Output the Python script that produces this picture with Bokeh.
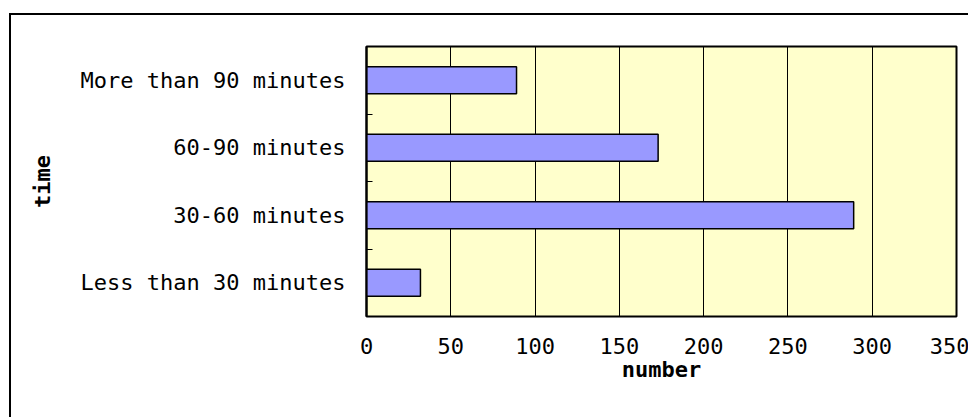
from bokeh.plotting import figure
from bokeh.models import FixedTicker, Range1d, ColumnDataSource
from bokeh.embed import file_html
from bokeh.resources import INLINE

# Data (bottom to top)
categories = ["Less than 30 minutes", "30-60 minutes", "60-90 minutes", "More than 90 minutes"]
values = [32, 289, 173, 89]
x_ticks = [0, 50, 100, 150, 200, 250, 300, 350]

ypos = [i + 0.5 for i in range(len(categories))]
bounds = [i for i in range(1, len(categories))]

src = ColumnDataSource(dict(y=ypos, v=values, cat=categories))

FONT = "DejaVu Sans Mono"

p = figure(frame_width=590, frame_height=270, min_border_left=355, min_border_top=31,
           min_border_right=13, min_border_bottom=103,
           x_range=Range1d(0, 350), y_range=Range1d(0, len(categories)),
           output_backend="svg", toolbar_location=None,
           background_fill_color="#FFFFCC", border_fill_color="white")
p.margin = (13, 0, 0, 9)
p.styles = {"border-left": "2px solid black", "border-top": "2px solid black"}

p.outline_line_color = "black"
p.outline_line_width = 2
p.outline_line_alpha = 1

p.hbar(y="y", right="v", left=0, height=0.4, source=src,
       fill_color="#9999FF", line_color="black", line_width=1.5)

# x axis
p.xaxis.ticker = FixedTicker(ticks=x_ticks)
p.xaxis.major_tick_line_color = None
p.xaxis.minor_tick_line_color = None
p.xaxis.axis_line_color = None
p.xaxis.major_label_standoff = 15
p.xaxis.major_label_text_font = FONT
p.xaxis.major_label_text_font_size = "22px"
p.xaxis.major_label_text_color = "black"
p.xaxis.axis_label = "number"
p.xaxis.axis_label_text_font = FONT
p.xaxis.axis_label_text_font_size = "22px"
p.xaxis.axis_label_text_font_style = "bold"
p.xaxis.axis_label_text_color = "black"
p.xaxis.axis_label_standoff = 0

# y axis
p.yaxis.ticker = FixedTicker(ticks=ypos, minor_ticks=bounds)
p.yaxis.major_label_overrides = {y: c for y, c in zip(ypos, categories)}
p.yaxis.major_tick_line_color = None
p.yaxis.minor_tick_line_color = "black"
p.yaxis.minor_tick_in = 6
p.yaxis.minor_tick_out = 0
p.yaxis.axis_line_color = "black"
p.yaxis.axis_line_width = 2
p.yaxis.major_label_standoff = 15
p.yaxis.major_label_text_font = FONT
p.yaxis.major_label_text_font_size = "22px"
p.yaxis.major_label_text_color = "black"
p.yaxis.axis_label = "time"
p.yaxis.axis_label_text_font = FONT
p.yaxis.axis_label_text_font_size = "22px"
p.yaxis.axis_label_text_font_style = "bold"
p.yaxis.axis_label_text_color = "black"
p.yaxis.axis_label_standoff = 23

# grid
p.xgrid.ticker = FixedTicker(ticks=x_ticks)
p.xgrid.grid_line_color = "black"
p.xgrid.grid_line_width = 1
p.ygrid.grid_line_color = None

open("out.html", "w").write(file_html(p, INLINE))
